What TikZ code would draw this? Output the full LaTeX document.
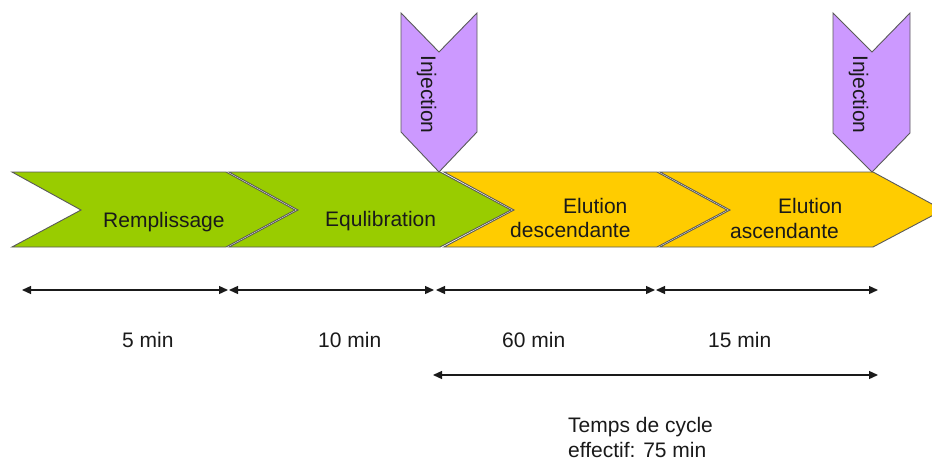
\documentclass[tikz,border=0pt]{standalone}
\usepackage{fontspec}
\setmainfont{Liberation Sans}
\usetikzlibrary{arrows.meta}
\definecolor{cgreen}{HTML}{99CC00}
\definecolor{cyellow}{HTML}{FFCC00}
\definecolor{cpurple}{HTML}{CC99FF}
\definecolor{cline}{HTML}{5A5A5A}
\definecolor{ctext}{HTML}{1A1A1A}
\begin{document}
\begin{tikzpicture}[x=1pt,y=-1pt,
  chev/.style={draw=cline, line width=0.9pt},
  txt/.style={font=\fontsize{21}{24}\selectfont, text=ctext, inner sep=0pt, anchor=base west},
  dim/.style={draw=ctext, line width=1.3pt, {Triangle[length=9pt,width=8pt]}-{Triangle[length=9pt,width=8pt]}}]
\useasboundingbox (0,0) rectangle (932,460);
\fill[white] (0,0) rectangle (932,460);
% phase chevrons
\path[chev, fill=cgreen] (12,172) -- (226,172) -- (295,210) -- (226,247) -- (12,247) -- (81,210) -- cycle;
\path[chev, fill=cgreen] (229,172) -- (440,172) -- (511,210) -- (440,247) -- (229,247) -- (298,210) -- cycle;
\path[chev, fill=cyellow] (444,172) -- (657,172) -- (727,210) -- (657,247) -- (444,247) -- (514,210) -- cycle;
\path[chev, fill=cyellow] (660,172) -- (873,172) -- (943,210) -- (873,247) -- (660,247) -- (730,210) -- cycle;
% injection markers
\path[chev, fill=cpurple] (401,13) -- (439,52) -- (477,13) -- (477,132) -- (439,172) -- (401,132) -- cycle;
\path[chev, fill=cpurple] (833,13) -- (872,52) -- (910,13) -- (910,133) -- (872,172) -- (833,133) -- cycle;
\node[txt, rotate=-90] (inj1) at (421,55) {Injection};
\node[txt, rotate=-90] (inj2) at (853,55) {Injection};
% phase labels
\node[txt] (remp) at (103,227) {Remplissage};
\node[txt] (equi) at (325,226) {Equlibration};
\node[txt] (el1) at (563,213) {Elution};
\node[txt] (desc) at (510,237) {descendante};
\node[txt] (el2) at (778,213) {Elution};
\node[txt] (asc) at (730,238) {ascendante};
% dimension arrows
\coordinate (a0) at (22,290);
\coordinate (a1) at (228,290);
\coordinate (a2) at (229,290);
\coordinate (a3) at (434,290);
\coordinate (a4) at (436,290);
\coordinate (a5) at (655,290);
\coordinate (a6) at (656,290);
\coordinate (a7) at (878,290);
\coordinate (b0) at (433,375);
\coordinate (b1) at (878,375);
\draw[dim] (a0) -- (a1);
\draw[dim] (a2) -- (a3);
\draw[dim] (a4) -- (a5);
\draw[dim] (a6) -- (a7);
\draw[dim] (b0) -- (b1);
\node[txt] (t5) at (122,347) {5 min};
\node[txt] (t10) at (318,347) {10 min};
\node[txt] (t60) at (502,347) {60 min};
\node[txt] (t15) at (708,347) {15 min};
\node[txt] (cyc1) at (568,432) {Temps de cycle};
\node[txt] (cyc2) at (568,457) {effectif: 75 min};
\end{tikzpicture}
\end{document}
